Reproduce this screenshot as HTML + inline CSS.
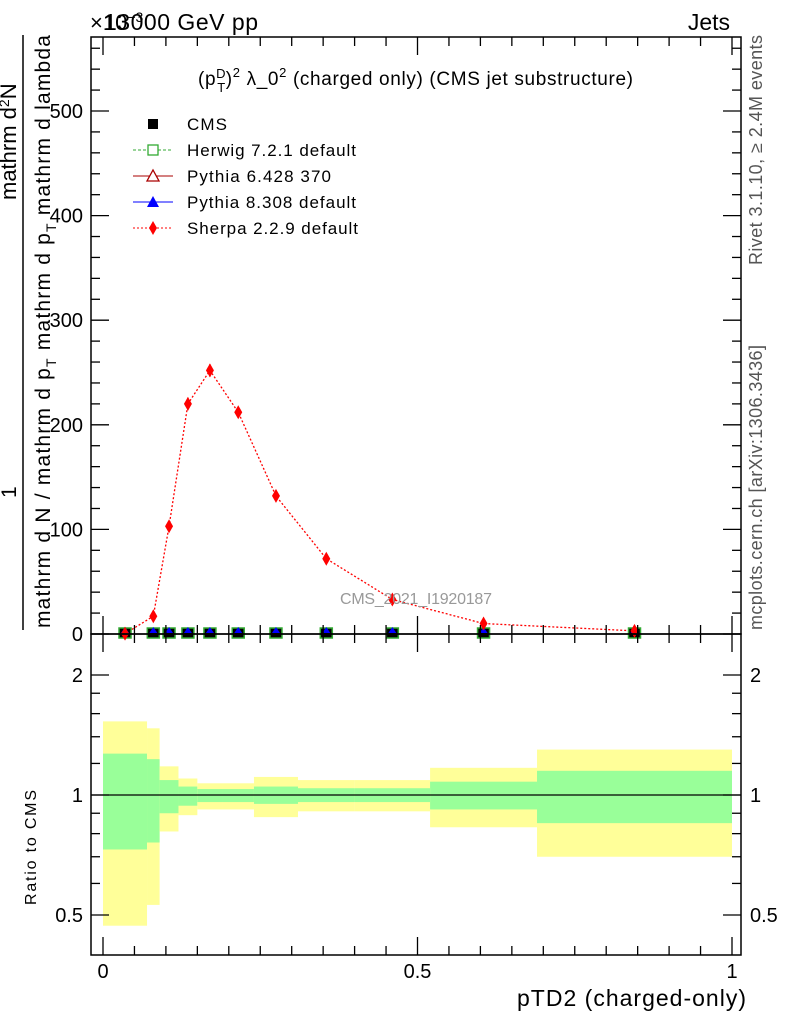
<!DOCTYPE html>
<html><head><meta charset="utf-8"><style>
body{margin:0;background:#fff}
svg{font-family:"Liberation Sans",sans-serif}
</style></head><body>
<svg width="786" height="1024" viewBox="0 0 786 1024">
<g id="ratio"></g>
<g id="main"></g>
<g id="axes"></g>
<text x="90" y="30" font-size="22" fill="#000">×10<tspan font-size="14" dy="-8">−3</tspan></text>
<text x="104" y="30" font-size="23" textLength="154">13000 GeV pp</text>
<text x="730" y="30" font-size="23" text-anchor="end">Jets</text>
<text x="198" y="85" font-size="19" textLength="435">(p<tspan font-size="13" dy="-7">D</tspan><tspan font-size="13" dx="-9" dy="14">T</tspan><tspan dy="-7">)</tspan><tspan font-size="13" dy="-8">2</tspan><tspan dy="8"> λ_0</tspan><tspan font-size="13" dy="-8">2</tspan><tspan dy="8"> (charged only) (CMS jet substructure)</tspan></text>
<text x="416" y="604" font-size="16" fill="#999" text-anchor="middle" textLength="152">CMS_2021_I1920187</text>
<g fill="#555">
<text transform="translate(762,265) rotate(-90)" font-size="18" textLength="230">Rivet 3.1.10, ≥ 2.4M events</text>
<text transform="translate(762,630) rotate(-90)" font-size="18" textLength="285">mcplots.cern.ch [arXiv:1306.3436]</text>
</g>
<g font-size="21">
<text transform="translate(50,628) rotate(-90)" textLength="593">mathrm d N / mathrm d p<tspan font-size="14" dy="6">T</tspan><tspan dy="-6"> mathrm d p</tspan><tspan font-size="14" dy="6">T</tspan><tspan dy="-6"> mathrm d lambda</tspan></text>
<text transform="translate(16,498) rotate(-90)">1</text>
<text transform="translate(16,200) rotate(-90)" font-size="22">mathrm d<tspan font-size="14" dy="-7">2</tspan><tspan dy="7">N</tspan></text>
<line x1="23" y1="630" x2="23" y2="35" stroke="#000" stroke-width="1.5"/>
</g>
<text transform="translate(36,905) rotate(-90)" font-size="16" textLength="115">Ratio to CMS</text>
<text x="746" y="1006" font-size="23" text-anchor="end" textLength="229">pTD2 (charged-only)</text>
<g id="legend" font-size="17"></g>
</svg>
<script>
const edges=[0,0.07,0.09,0.12,0.15,0.19,0.24,0.31,0.40,0.52,0.69,1.0];
const sherpa=[0.3,17,103,220,252,212,132,72,33,10,3];
const sherpaErr=[1,3,4,6,6,5,4,3,2,1,1];
const yellowHi=[1.53,1.47,1.18,1.10,1.07,1.07,1.11,1.09,1.09,1.17,1.30];
const greenHi=[1.27,1.23,1.09,1.05,1.035,1.035,1.05,1.04,1.04,1.08,1.15];
const greenLo=[0.73,0.76,0.90,0.94,0.96,0.96,0.95,0.96,0.96,0.92,0.85];
const yellowLo=[0.47,0.53,0.81,0.89,0.92,0.92,0.88,0.91,0.91,0.83,0.70];
const mainTicks=[0,100,200,300,400,500];
const ratioTicks=[0.5,1,2];
const xTicks=[0,0.5,1];
const NS='http://www.w3.org/2000/svg';
const X=v=>103+v*629;
const Y=v=>634-v*1.046;
const R=r=>795-120*Math.log2(r);
function el(p,t,a){const e=document.createElementNS(NS,t);for(const k in a)e.setAttribute(k,a[k]);p.appendChild(e);return e;}
const rg=document.getElementById('ratio'),mg=document.getElementById('main'),ag=document.getElementById('axes'),lg=document.getElementById('legend');
for(let i=0;i<sherpa.length;i++){
 const x0=X(edges[i]),x1=X(edges[i+1]);
 const y=el(rg,'rect',{x:x0,y:R(yellowHi[i]),width:x1-x0,height:R(yellowLo[i])-R(yellowHi[i]),fill:'#ffff99'});
 
 
 const g=el(rg,'rect',{x:x0,y:R(greenHi[i]),width:x1-x0,height:R(greenLo[i])-R(greenHi[i]),fill:'#99ff99'});
 
 
}
el(rg,'line',{x1:91,x2:741,y1:R(1),y2:R(1),stroke:'#000','stroke-width':1.2});
const cx=sherpa.map((v,i)=>X((edges[i]+edges[i+1])/2));
let d='';sherpa.forEach((v,i)=>{d+=(i?'L':'M')+cx[i]+','+Y(v);});
const sl=el(mg,'path',{d:d,fill:'none',stroke:'#f00','stroke-width':1.3,'stroke-dasharray':'2,2'});


sherpa.forEach((v,i)=>{
 const x=cx[i];
 const c=el(mg,'rect',{x:x-6,y:Y(0)-6,width:12,height:10,fill:'#000',stroke:'#3a3',"stroke-width":1.5});
 
 
 const t=el(mg,'path',{d:`M${x-4},${Y(0)-1}L${x+4},${Y(0)-1}L${x},${Y(0)-7}Z`,fill:'#00f'});
 
 
 el(mg,'line',{x1:x,x2:x,y1:Y(v+sherpaErr[i]),y2:Y(v-sherpaErr[i]),stroke:'#f00','stroke-width':1.3});
 const s=el(mg,'path',{d:`M${x},${Y(v)-7}L${x+4},${Y(v)}L${x},${Y(v)+7}L${x-4},${Y(v)}Z`,fill:'#f00'});
 
 
});
el(ag,'rect',{x:91,y:37,width:650,height:597,fill:'none',stroke:'#000','stroke-width':1.5});
el(ag,'rect',{x:91,y:634,width:650,height:321,fill:'none',stroke:'#000','stroke-width':1.5});
for(let v=0;v<=560;v+=20){const big=v%100===0;const l=big?18:9;
 el(ag,'line',{x1:91,x2:91+l,y1:Y(v),y2:Y(v),stroke:'#000','stroke-width':1.3});
 el(ag,'line',{x1:741,x2:741-l,y1:Y(v),y2:Y(v),stroke:'#000','stroke-width':1.3});}
mainTicks.forEach(v=>{const t=el(ag,'text',{x:83,y:Y(v)+7,'font-size':20,'text-anchor':'end'});t.textContent=v;
 
 });
[0.5,0.6,0.7,0.8,0.9,1,1.2,1.4,1.6,1.8,2].forEach(r=>{const big=ratioTicks.includes(r);const l=big?18:9;
 el(ag,'line',{x1:91,x2:91+l,y1:R(r),y2:R(r),stroke:'#000','stroke-width':1.3});
 el(ag,'line',{x1:741,x2:741-l,y1:R(r),y2:R(r),stroke:'#000','stroke-width':1.3});});
ratioTicks.forEach(r=>{const t=el(ag,'text',{x:83,y:R(r)+7,'font-size':20,'text-anchor':'end'});t.textContent=r;
 
 
 const t2=el(ag,'text',{x:750,y:R(r)+7,'font-size':20});t2.textContent=r;
 
 });
for(let v=0;v<=1.0001;v+=0.05){const big=Math.abs(v*2-Math.round(v*2))<1e-6;const l=big?18:9;const x=X(v);
 el(ag,'line',{x1:x,x2:x,y1:634,y2:634-l,stroke:'#000','stroke-width':1.3});
 el(ag,'line',{x1:x,x2:x,y1:37,y2:37+l,stroke:'#000','stroke-width':1.3});
 el(ag,'line',{x1:x,x2:x,y1:955,y2:955-l,stroke:'#000','stroke-width':1.3});
 el(ag,'line',{x1:x,x2:x,y1:634,y2:634+l,stroke:'#000','stroke-width':1.3});}
xTicks.forEach(v=>{const t=el(ag,'text',{x:X(v),y:978,'font-size':20,'text-anchor':'middle'});t.textContent=v;
 
 });
const leg=[['CMS','cms',40],['Herwig 7.2.1 default','herwig',169],['Pythia 6.428 370','py6',144],['Pythia 8.308 default','py8',169],['Sherpa 2.2.9 default','sherpa',171]];
leg.forEach((e,i)=>{const y=124+i*26;const x=153;
 if(e[1]==='cms')el(lg,'rect',{x:x-5,y:y-5,width:10,height:10,fill:'#000'});
 if(e[1]==='herwig'){el(lg,'line',{x1:x-20,x2:x+20,y1:y,y2:y,stroke:'#3a3','stroke-dasharray':'3,2'});el(lg,'rect',{x:x-5,y:y-5,width:10,height:10,fill:'#fff',stroke:'#3a3','stroke-width':1.3});}
 if(e[1]==='py6'){el(lg,'line',{x1:x-20,x2:x+20,y1:y,y2:y,stroke:'#a00'});el(lg,'path',{d:`M${x-6},${y+5}L${x+6},${y+5}L${x},${y-6}Z`,fill:'#fff',stroke:'#a00','stroke-width':1.3});}
 if(e[1]==='py8'){el(lg,'line',{x1:x-20,x2:x+20,y1:y,y2:y,stroke:'#00f'});el(lg,'path',{d:`M${x-6},${y+5}L${x+6},${y+5}L${x},${y-6}Z`,fill:'#00f'});}
 if(e[1]==='sherpa'){el(lg,'line',{x1:x-20,x2:x+20,y1:y,y2:y,stroke:'#f00','stroke-dasharray':'2,2'});el(lg,'path',{d:`M${x},${y-7}L${x+4},${y}L${x},${y+7}L${x-4},${y}Z`,fill:'#f00'});}
 const t=el(lg,'text',{x:187,y:y+6,textLength:e[2]});t.textContent=e[0];
 
 });
</script>
</body></html>
